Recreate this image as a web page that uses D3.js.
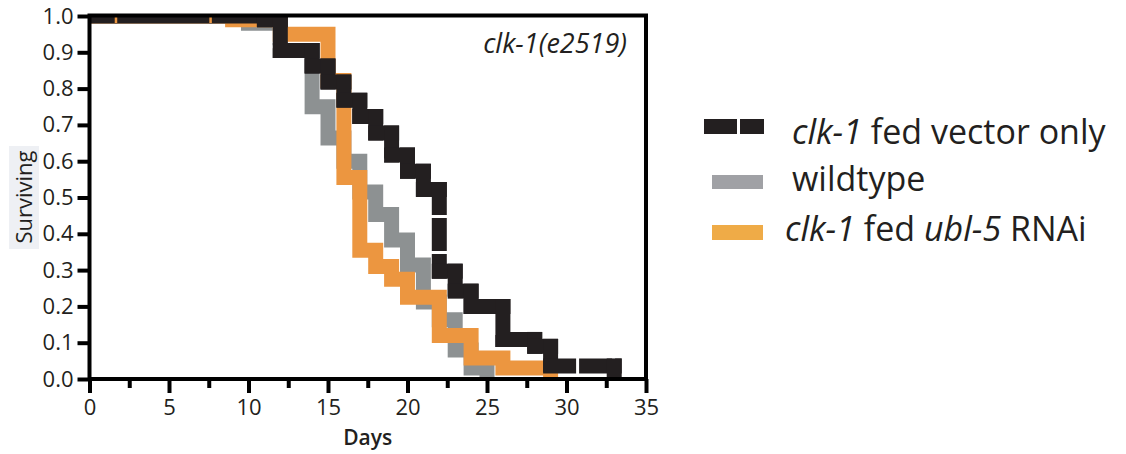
<!doctype html>
<html>
<head>
<meta charset="utf-8">
<script src="https://d3js.org/d3.v7.min.js"></script>
<style>
  body { margin: 0; background: #fff; }
  text { font-family: "Open Sans", sans-serif; fill: #231f20; }
</style>
</head>
<body>
<svg width="1126" height="454"></svg>
<script>
// survival steps (day of drop, fraction surviving after it)
var vectorDays = [0, 11, 12, 14, 15, 16, 17, 18, 19, 20, 21, 22, 23, 24, 26, 28, 29, 33];
var vectorSurv = [1, 0.99, 0.905, 0.862, 0.818, 0.768, 0.723, 0.678, 0.617, 0.572, 0.522, 0.297, 0.242, 0.20, 0.109, 0.09, 0.036, 0];

var wildDays = [0, 10, 12, 14, 15, 16, 17, 18, 19, 20, 21, 22, 23, 24, 25];
var wildSurv = [1, 0.98, 0.905, 0.75, 0.664, 0.60, 0.515, 0.453, 0.383, 0.314, 0.212, 0.163, 0.08, 0.03, 0];

var ublDays = [0, 9, 12, 15, 16, 17, 18, 19, 20, 22, 24, 26, 29];
var ublSurv = [1, 0.99, 0.95, 0.822, 0.555, 0.355, 0.31, 0.275, 0.225, 0.12, 0.058, 0.03, 0];
var ublCensored = [1.65, 7.6];

var yTicks = [0, 0.1, 0.2, 0.3, 0.4, 0.5, 0.6, 0.7, 0.8, 0.9, 1.0];
var xTicks = [0, 5, 10, 15, 20, 25, 30, 35];
var xMinor = [2.5, 7.5, 12.5, 17.5, 22.5, 27.5, 32.5];

(function() {
  var svg = d3.select("svg");
  var pl = 89.5, pr = 646, pt = 16, pb = 379;
  var lw = 15;

  var x = d3.scaleLinear().domain([0, 35]).range([pl, pr]);
  var y = d3.scaleLinear().domain([0, 1]).range([pb, pt]);

  svg.append("defs").append("clipPath").attr("id", "plot")
    .append("rect").attr("x", pl).attr("y", pt)
    .attr("width", pr - pl).attr("height", pb - pt);

  var line = d3.line()
    .x(function(d) { return x(d[0]); })
    .y(function(d) { return y(d[1]); })
    .curve(d3.curveStepAfter);

  var curves = svg.append("g").attr("clip-path", "url(#plot)");

  function solidCurve(days, surv, color) {
    curves.append("path")
      .datum(days.map(function(d, i) { return [d, surv[i]]; }))
      .attr("d", line)
      .attr("fill", "none")
      .attr("stroke", color)
      .attr("stroke-width", lw)
      .attr("stroke-linejoin", "miter");
  }

  // dashed curve: every step piece is its own dashed stroke (pattern restarts)
  function dashedCurve(days, surv, color) {
    var segs = [];
    for (var i = 0; i < days.length - 1; i++) {
      segs.push({ x1: x(days[i]) - lw / 2, y1: y(surv[i]), x2: x(days[i + 1]) + lw / 2, y2: y(surv[i]), solid: surv[i] === 1 });
      segs.push({ x1: x(days[i + 1]), y1: y(surv[i]) - lw / 2, x2: x(days[i + 1]), y2: y(surv[i + 1]) + lw / 2, solid: false });
    }
    curves.selectAll(null).data(segs).enter().append("line")
      .attr("x1", function(d) { return d.x1; })
      .attr("y1", function(d) { return d.y1; })
      .attr("x2", function(d) { return d.x2; })
      .attr("y2", function(d) { return d.y2; })
      .attr("stroke", color)
      .attr("stroke-width", lw)
      .attr("stroke-dasharray", function(d) { return d.solid ? null : "33,3"; });
  }

  solidCurve(wildDays, wildSurv, "#8d9192");
  solidCurve(ublDays, ublSurv, "#ec9640");
  dashedCurve(vectorDays, vectorSurv, "#231f20");

  // censor marks on the ubl-5 curve
  curves.selectAll("rect.cens").data(ublCensored).enter()
    .append("rect")
    .attr("x", function(d) { return x(d) - 1; })
    .attr("y", y(1) + 1)
    .attr("width", 2.5)
    .attr("height", 6)
    .attr("fill", "#ec9640");

  // frame
  svg.append("rect")
    .attr("x", pl).attr("y", pt - 0.5)
    .attr("width", pr - pl).attr("height", pb - pt + 0.5)
    .attr("fill", "none").attr("stroke", "#000").attr("stroke-width", 4);

  var yAxis = svg.append("g")
    .attr("transform", "translate(" + pl + ",0)")
    .call(d3.axisLeft(y).tickValues(yTicks).tickSize(12).tickPadding(4)
      .tickFormat(d3.format(".1f")));

  var xAxis = svg.append("g")
    .attr("transform", "translate(0," + pb + ")")
    .call(d3.axisBottom(x).tickValues(xTicks).tickSize(14).tickPadding(6)
      .tickFormat(d3.format("d")));

  var xAxisMinor = svg.append("g")
    .attr("transform", "translate(0," + pb + ")")
    .call(d3.axisBottom(x).tickValues(xMinor).tickSize(9).tickFormat(""));

  [yAxis, xAxis, xAxisMinor].forEach(function(g) {
    g.select(".domain").remove();
    g.selectAll(".tick line").attr("stroke", "#000").attr("stroke-width", 4);
    g.selectAll(".tick text")
      .style("font-family", "'Open Sans', sans-serif")
      .style("font-size", "22px")
      .attr("fill", "#231f20");
  });

  svg.append("text")
    .attr("x", (pl + pr) / 2).attr("y", 445)
    .attr("text-anchor", "middle")
    .style("font-size", "21px").style("font-weight", 600)
    .text("Days");

  svg.append("rect")
    .attr("x", 9).attr("y", 146).attr("width", 30).attr("height", 103)
    .attr("fill", "#eef0f4");
  svg.append("text")
    .attr("transform", "translate(32,197) rotate(-90)")
    .attr("text-anchor", "middle")
    .style("font-size", "22px").attr("fill", "#3a3a3a")
    .text("Surviving");

  svg.append("text")
    .attr("x", 627).attr("y", 53)
    .attr("text-anchor", "end")
    .style("font-size", "27px").style("font-style", "italic")
    .text("clk-1(e2519)");

  // legend
  var legend = svg.append("g");
  legend.append("line")
    .attr("x1", 704).attr("x2", 764).attr("y1", 126.5).attr("y2", 126.5)
    .attr("stroke", "#231f20").attr("stroke-width", 15)
    .attr("stroke-dasharray", "33,3");
  legend.append("rect").attr("x", 712).attr("y", 175).attr("width", 51).attr("height", 14)
    .attr("fill", "#a0a1a5");
  legend.append("rect").attr("x", 712).attr("y", 225).attr("width", 51).attr("height", 15)
    .attr("fill", "#efab47");

  function legendText(xPos, yPos, parts) {
    var t = legend.append("text").attr("x", xPos).attr("y", yPos).style("font-size", "34px");
    parts.forEach(function(p) {
      t.append("tspan").style("font-style", p[1] ? "italic" : "normal").text(p[0]);
    });
  }
  legendText(792, 144, [["clk-1", true], [" fed vector only", false]]);
  legendText(792, 191, [["wildtype", false]]);
  legendText(785, 241, [["clk-1", true], [" fed ", false], ["ubl-5", true], [" RNAi", false]]);
})();
</script>
</body>
</html>
